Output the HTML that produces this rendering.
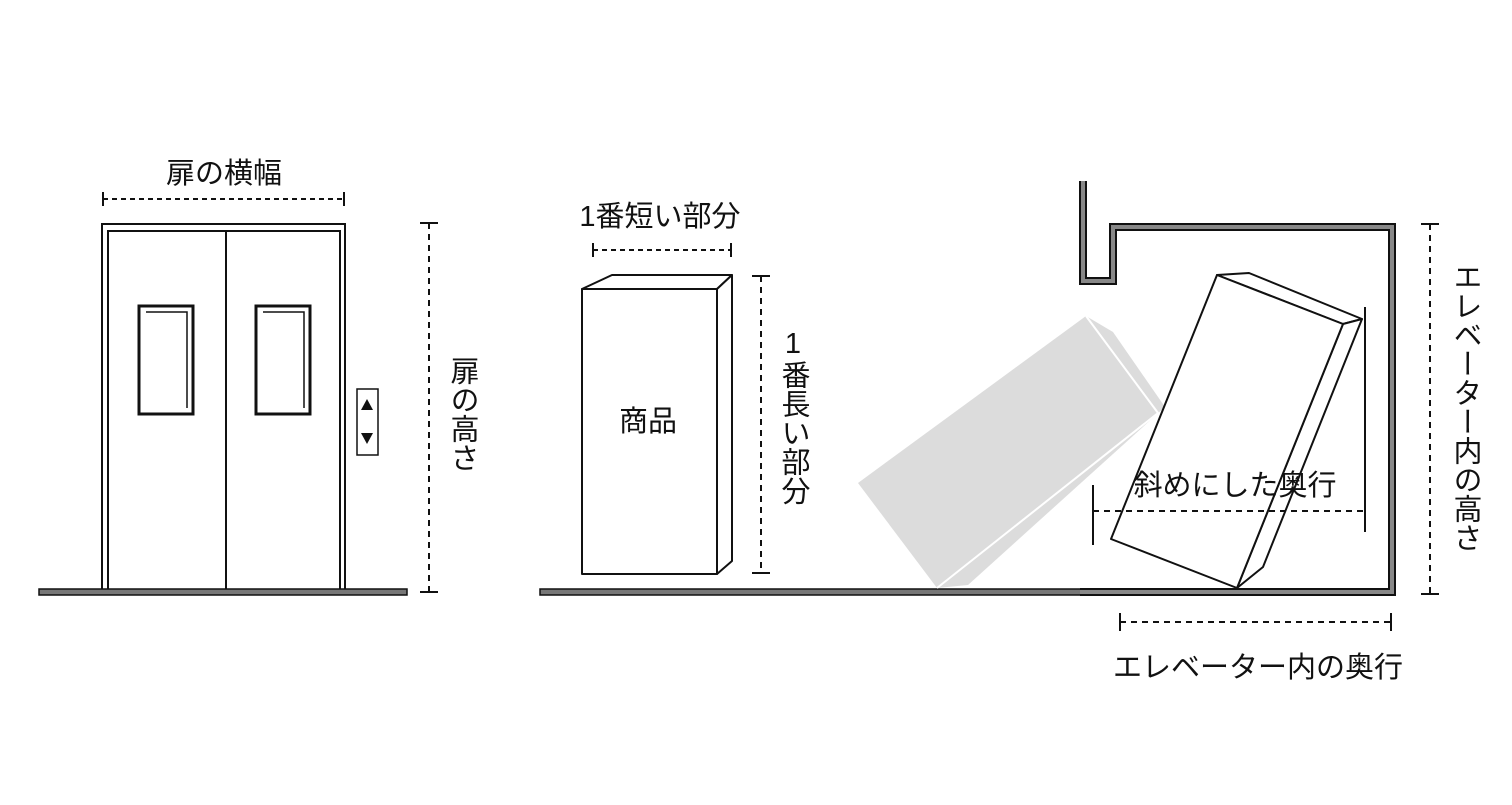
<!DOCTYPE html>
<html><head><meta charset="utf-8"><style>
html,body{margin:0;padding:0;background:#fff;}
svg{display:block}
text{font-family:"Liberation Sans","Noto Sans CJK JP",sans-serif;font-size:29px;fill:#111;}
.v{writing-mode:vertical-rl;text-orientation:upright;}
</style></head><body>
<svg width="1512" height="805" viewBox="0 0 1512 805" xmlns="http://www.w3.org/2000/svg">
<g fill="none" stroke="#111" stroke-width="2">
<rect x="102" y="224" width="243" height="367" fill="#fff"/>
<path d="M108,591 V231 H340 V591"/>
<line x1="226" y1="231" x2="226" y2="591"/>
<rect x="139" y="306" width="54" height="108" stroke-width="3"/>
<path d="M146,312 H187 V408" stroke-width="1.5"/>
<rect x="256" y="306" width="54" height="108" stroke-width="3"/>
<path d="M263,312 H304 V408" stroke-width="1.5"/>
<rect x="357" y="389" width="21" height="66" stroke-width="1.5"/>
</g>
<polygon points="367,399 361,410 373,410" fill="#111"/>
<polygon points="361,433 373,433 367,444" fill="#111"/>
<rect x="39" y="589" width="368" height="6" fill="#777" stroke="#111" stroke-width="1.5"/>

<g stroke="#111" stroke-width="2" fill="none">
<line x1="103" y1="199" x2="344" y2="199" stroke-dasharray="5,4"/>
<line x1="103" y1="192" x2="103" y2="206"/><line x1="344" y1="192" x2="344" y2="206"/>
<line x1="429" y1="223" x2="429" y2="592" stroke-dasharray="6,5"/>
<line x1="420" y1="223" x2="438" y2="223"/><line x1="420" y1="592" x2="438" y2="592"/>
<line x1="593" y1="250" x2="731" y2="250" stroke-dasharray="5,4"/>
<line x1="593" y1="243" x2="593" y2="257"/><line x1="731" y1="243" x2="731" y2="257"/>
<line x1="761" y1="276" x2="761" y2="573" stroke-dasharray="6,5"/>
<line x1="752" y1="276" x2="770" y2="276"/><line x1="752" y1="573" x2="770" y2="573"/>
<line x1="1430" y1="224" x2="1430" y2="594" stroke-dasharray="6,5"/>
<line x1="1421" y1="224" x2="1439" y2="224"/><line x1="1421" y1="594" x2="1439" y2="594"/>
<line x1="1120" y1="622" x2="1391" y2="622" stroke-dasharray="6,5"/>
<line x1="1120" y1="613" x2="1120" y2="631"/><line x1="1391" y1="613" x2="1391" y2="631"/>
</g>

<g stroke="#111" stroke-width="2" fill="#fff" stroke-linejoin="round">
<polygon points="582,289 612,275 732,275 717,289"/>
<polygon points="717,289 732,275 732,561 717,574"/>
<rect x="582" y="289" width="135" height="285"/>
</g>

<rect x="540" y="589" width="855" height="6" fill="#777" stroke="#111" stroke-width="1.5"/>

<polygon points="858,483 1086,316 1113,332 1165,407 968,585 937,588" fill="#dcdcdc"/>
<polyline points="1086,316 1158,413 937,588" fill="none" stroke="#fff" stroke-width="2"/>

<path d="M1083,181 V281 H1113 V227 H1392 V592 H1080" fill="none" stroke="#111" stroke-width="8"/>
<path d="M1083,181 V281 H1113 V227 H1392 V592 H1080" fill="none" stroke="#888" stroke-width="4"/>

<g stroke="#111" stroke-width="2" fill="#fff" stroke-linejoin="round">
<polygon points="1217,275 1249,273 1362,319 1343,324"/>
<polygon points="1343,324 1362,319 1263,567 1237,588"/>
<polygon points="1217,275 1343,324 1237,588 1111,539"/>
</g>
<g stroke="#111" stroke-width="2" fill="none">
<line x1="1365" y1="307" x2="1365" y2="532"/>
<line x1="1093" y1="485" x2="1093" y2="545"/>
<line x1="1093" y1="511" x2="1365" y2="511" stroke-dasharray="6,5"/>
</g>

<text x="224" y="183" text-anchor="middle">扉の横幅</text>
<text x="660" y="226" text-anchor="middle">1番短い部分</text>
<text x="648" y="431" text-anchor="middle" font-size="27">商品</text>
<text x="1235" y="495" text-anchor="middle">斜めにした奥行</text>
<text x="1258" y="677" text-anchor="middle">エレベーター内の奥行</text>
<text class="v" x="462" y="356">扉の高さ</text>
<text class="v" x="793" y="328">1番長い部分</text>
<text class="v" x="1465" y="262" style="text-orientation:mixed">エレベーター内の高さ</text>
</svg>
</body></html>
